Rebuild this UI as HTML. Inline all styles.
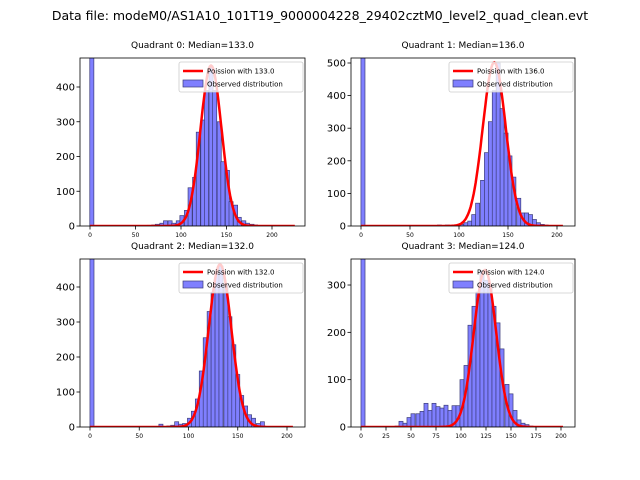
<!DOCTYPE html>
<html><head><meta charset="utf-8"><style>
body{margin:0;background:#fff;}
svg{display:block;font-family:"DejaVu Sans","Liberation Sans",sans-serif;}
</style></head><body>
<svg id="fig" width="640" height="480" viewBox="0 0 640 480">
<text x="320" y="20" font-size="12.5" text-anchor="middle">Data file: modeM0/AS1A10_101T19_9000004228_29402cztM0_level2_quad_clean.evt</text>
</svg>
<script>
// ---- data ----
const q0Centers=[2,65,70,74,79,83,88,92,97,101,106,110,115,119,124,128,133,137,142,146,151,155,160,164,169,173,178,182,187];
const q0Counts=[700,2,3,5,8,15,15,8,15,30,45,110,140,270,305,390,460,390,300,185,160,70,60,25,15,8,5,3,1];
const q1Centers=[2,68,80,88,103,107,111,115,119,124,128,132,136,140,144,148,152,156,161,165,169,173,177,181,185,189,194,198,202];
const q1Counts=[700,2,3,3,5,10,15,35,70,140,225,320,415,500,360,285,215,150,85,40,40,35,20,10,5,3,2,1,1];
const q2Centers=[2,72,80,84,88,92,96,101,105,109,113,117,121,125,129,133,138,142,146,150,154,158,162,166,171,175,179];
const q2Counts=[700,8,3,5,15,8,10,25,45,80,160,255,330,385,440,460,410,315,235,150,90,60,35,25,10,15,1];
const q3Centers=[2,36,40,44,48,52,57,61,65,69,73,77,81,85,89,93,97,101,105,109,113,117,121,125,129,133,137,141,146,150,154,158,162,166,170];
const q3Counts=[700,2,12,8,20,28,28,33,50,35,50,43,40,46,35,45,45,100,130,215,255,285,330,310,300,255,220,165,90,70,35,15,8,5,2];
const medians=[133,136,132,124];
const peaks=[462,502,465,332];
const yTicks=[[0,100,200,300,400],[0,100,200,300,400,500],[0,100,200,300,400],[0,100,200,300]];
const xTicks=[[0,50,100,150,200],[0,50,100,150,200],[0,50,100,150,200],[0,25,50,75,100,125,150,175,200]];
const xMaxData=[225,206,206,202];
const binW=[4.5,4.12,4.12,4.05];
const centersAll=[q0Centers,q1Centers,q2Centers,q3Centers];
const countsAll=[q0Counts,q1Counts,q2Counts,q3Counts];
// ---- layout ----
const panels=[
 {l:80,r:305,t:58,b:226,x0:90,xs:0.91,ys:0.3475},
 {l:351,r:575,t:58,b:226,x0:361,xs:0.98,ys:0.326},
 {l:80,r:305,t:259,b:427,x0:90,xs:0.985,ys:0.35},
 {l:351,r:575,t:259,b:427,x0:361,xs:1.0,ys:0.4733}
];
const NS='http://www.w3.org/2000/svg';
const svg=document.getElementById('fig');
function mk(tag,attrs,parent){const e=document.createElementNS(NS,tag);for(const k in attrs)e.setAttribute(k,attrs[k]);(parent||svg).appendChild(e);return e;}
panels.forEach((p,i)=>{
 const g=mk('g',{});
 
 
 const X=v=>p.x0+v*p.xs, Y=v=>p.b-v*p.ys;
 const cid='clip'+i;
 const cp=mk('clipPath',{id:cid},g);mk('rect',{x:p.l,y:p.t,width:p.r-p.l,height:p.b-p.t},cp);
 const bars=mk('g',{'clip-path':'url(#'+cid+')'},g);
 centersAll[i].forEach((c,j)=>{
  const v=countsAll[i][j];
  const x=X(c-binW[i]/2),w=binW[i]*p.xs;
  const r=mk('rect',{x:x,y:Y(v),width:w,height:v*p.ys,fill:'#7f7fff',stroke:'#3d3d7a','stroke-width':0.7},bars);
  
  
 });
 const mu=medians[i],sd=Math.sqrt(mu);let d='';
 for(let k=0;k<=xMaxData[i];k++){const v=peaks[i]*Math.exp(-((k-mu)**2)/(2*sd*sd));d+=(k?'L':'M')+X(k).toFixed(1)+','+Y(v).toFixed(1);}
 const pc=mk('path',{d:d,fill:'none',stroke:'#ff0000','stroke-width':2.5},bars);
 
 
 mk('rect',{x:p.l,y:p.t,width:p.r-p.l,height:p.b-p.t,fill:'none',stroke:'#000','stroke-width':0.8},g);
 yTicks[i].forEach(t=>{
  mk('line',{x1:p.l-3.5,x2:p.l,y1:Y(t),y2:Y(t),stroke:'#000','stroke-width':0.8},g);
  const tx=mk('text',{x:p.l-5,y:Y(t)+3.5,'font-size':10,'text-anchor':'end'},g);tx.textContent=t;
  
  
 });
 xTicks[i].forEach(t=>{
  mk('line',{x1:X(t),x2:X(t),y1:p.b,y2:p.b+3.5,stroke:'#000','stroke-width':0.8},g);
  const tx=mk('text',{x:X(t),y:p.b+11,'font-size':6,'text-anchor':'middle'},g);tx.textContent=t;
  
  
 });
 const ti=mk('text',{x:(p.l+p.r)/2,y:p.t-10,'font-size':9,'text-anchor':'middle'},g);
 ti.textContent='Quadrant '+i+': Median='+medians[i].toFixed(1);
 
 
 const lg=mk('g',{},g);
 
 
 const lx=p.r-126,ly=p.t+4;
 mk('rect',{x:lx,y:ly,width:124,height:30,rx:2,fill:'rgba(255,255,255,0.8)',stroke:'#ccc','stroke-width':0.8},lg);
 mk('line',{x1:lx+4,x2:lx+24,y1:ly+9,y2:ly+9,stroke:'#f00','stroke-width':2.5},lg);
 const t1=mk('text',{x:lx+28,y:ly+11.5,'font-size':7},lg);t1.textContent='Poission with '+medians[i].toFixed(1);
 
 
 mk('rect',{x:lx+4,y:ly+18,width:20,height:7,fill:'#7f7fff',stroke:'#3d3d7a','stroke-width':0.7},lg);
 const t2=mk('text',{x:lx+28,y:ly+24.5,'font-size':7},lg);t2.textContent='Observed distribution';
 
 
});
</script>
</body></html>
